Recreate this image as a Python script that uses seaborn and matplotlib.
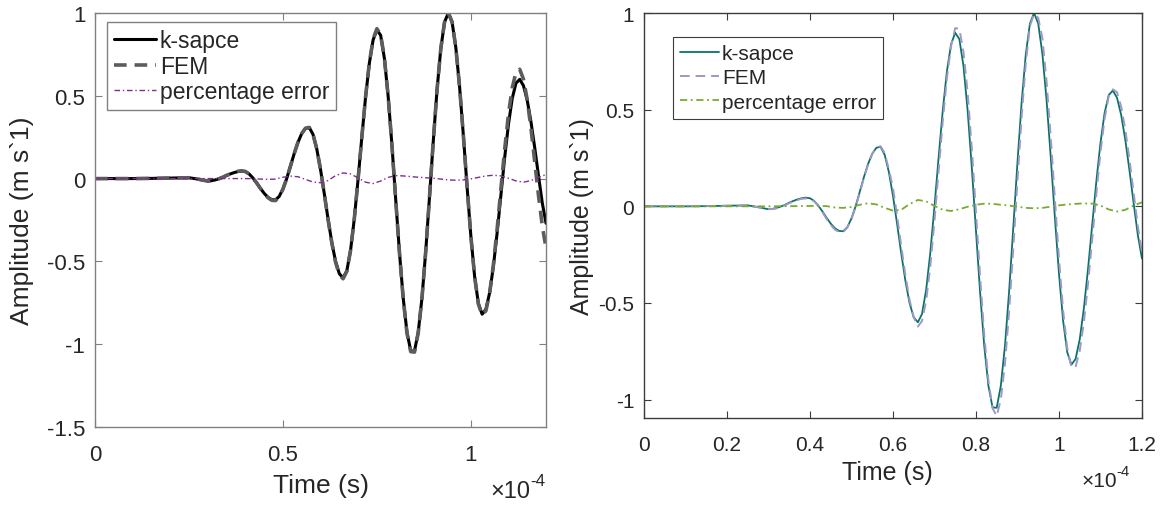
import numpy as np
import pandas as pd
import matplotlib
matplotlib.use("Agg")
import matplotlib.pyplot as plt
import seaborn as sns

# ---------------- data (time in units of 1e-4 s) ----------------
time_e4 = [0.00, 0.05, 0.10, 0.15, 0.20, 0.25, 0.27,
           0.30, 0.31, 0.32, 0.33, 0.34, 0.35, 0.36, 0.37, 0.38, 0.39,
           0.40, 0.41, 0.42, 0.43, 0.44, 0.45, 0.46, 0.47, 0.48, 0.49,
           0.50, 0.51, 0.52, 0.53, 0.54, 0.55, 0.56, 0.57, 0.58, 0.59,
           0.60, 0.61, 0.62, 0.63, 0.64, 0.65, 0.66, 0.67, 0.68, 0.69,
           0.70, 0.71, 0.72, 0.73, 0.74, 0.75, 0.76, 0.77, 0.78, 0.79,
           0.80, 0.81, 0.82, 0.83, 0.84, 0.85, 0.86, 0.87, 0.88, 0.89,
           0.90, 0.91, 0.92, 0.93, 0.94, 0.95, 0.96, 0.97, 0.98, 0.99,
           1.00, 1.01, 1.02, 1.03, 1.04, 1.05, 1.06, 1.07, 1.08, 1.09,
           1.10, 1.11, 1.12, 1.13, 1.14, 1.15, 1.16, 1.17, 1.18, 1.19,
           1.20]

k_space = [0.000, 0.000, 0.000, 0.001, 0.003, 0.005, -0.002,
           -0.015, -0.013, -0.008, -0.001, 0.008, 0.019, 0.028, 0.036, 0.042, 0.045,
           0.042, 0.028, 0.004, -0.026, -0.059, -0.089, -0.113, -0.127, -0.129, -0.108,
           -0.063, 0.000, 0.075, 0.151, 0.219, 0.272, 0.303, 0.308, 0.267, 0.179,
           0.055, -0.091, -0.244, -0.385, -0.500, -0.574, -0.600, -0.557, -0.432, -0.240,
           -0.002, 0.252, 0.495, 0.698, 0.838, 0.898, 0.865, 0.725, 0.495, 0.202,
           -0.125, -0.445, -0.722, -0.928, -1.040, -1.042, -0.927, -0.719, -0.437, -0.109,
           0.226, 0.536, 0.784, 0.945, 1.000, 0.946, 0.791, 0.554, 0.262, -0.051,
           -0.347, -0.591, -0.755, -0.819, -0.790, -0.689, -0.529, -0.325, -0.099, 0.127,
           0.327, 0.483, 0.576, 0.599, 0.561, 0.472, 0.342, 0.185, 0.016, -0.147,
           -0.270]

fem_left = [0.000, 0.000, 0.000, 0.001, 0.003, 0.005, -0.002,
            -0.015, -0.013, -0.008, -0.001, 0.008, 0.019, 0.028, 0.037, 0.044, 0.047,
            0.043, 0.028, 0.004, -0.026, -0.059, -0.090, -0.115, -0.131, -0.133, -0.110,
            -0.064, 0.000, 0.075, 0.151, 0.219, 0.272, 0.304, 0.309, 0.267, 0.179,
            0.055, -0.092, -0.246, -0.388, -0.505, -0.580, -0.605, -0.560, -0.432, -0.240,
            -0.002, 0.253, 0.497, 0.702, 0.843, 0.905, 0.869, 0.727, 0.495, 0.202,
            -0.126, -0.447, -0.726, -0.933, -1.045, -1.048, -0.931, -0.720, -0.437, -0.109,
            0.226, 0.536, 0.784, 0.945, 1.000, 0.946, 0.791, 0.554, 0.262, -0.051,
            -0.347, -0.591, -0.757, -0.825, -0.798, -0.691, -0.519, -0.302, -0.060, 0.177,
            0.388, 0.547, 0.641, 0.660, 0.600, 0.476, 0.302, 0.100, -0.103, -0.284,
            -0.420]

fem_right = [0.000, 0.000, 0.000, 0.001, 0.003, 0.004, -0.003,
             -0.014, -0.014, -0.010, -0.003, 0.006, 0.016, 0.025, 0.033, 0.039, 0.041,
             0.039, 0.026, 0.002, -0.030, -0.065, -0.096, -0.120, -0.133, -0.133, -0.110,
             -0.066, -0.004, 0.070, 0.147, 0.216, 0.271, 0.304, 0.311, 0.276, 0.193,
             0.096, -0.049, -0.206, -0.356, -0.484, -0.574, -0.622, -0.593, -0.488, -0.310,
             -0.076, 0.183, 0.439, 0.663, 0.828, 0.922, 0.918, 0.798, 0.587, 0.301,
             -0.028, -0.363, -0.665, -0.901, -1.044, -1.085, -0.998, -0.813, -0.542, -0.216,
             0.131, 0.461, 0.738, 0.933, 0.995, 0.975, 0.871, 0.650, 0.364, 0.045,
             -0.269, -0.538, -0.734, -0.832, -0.831, -0.748, -0.600, -0.402, -0.173, 0.061,
             0.278, 0.454, 0.570, 0.605, 0.590, 0.515, 0.396, 0.241, 0.069, -0.102,
             -0.240]

time_err_e4 = [0.0, 0.1, 0.2, 0.3, 0.4,
               0.42, 0.44, 0.46, 0.48, 0.50, 0.52, 0.54, 0.56, 0.58, 0.60,
               0.62, 0.64, 0.66, 0.68, 0.70, 0.72, 0.74, 0.76, 0.78, 0.80,
               0.82, 0.84, 0.86, 0.88, 0.90, 0.92, 0.94, 0.96, 0.98, 1.00,
               1.02, 1.04, 1.06, 1.08, 1.10, 1.12, 1.14, 1.16, 1.18, 1.20]

err_left = [0.0, 0.0, 0.0, 0.0, 0.0,
            -0.001, -0.003, -0.005, -0.003, 0.008, 0.015, 0.011, -0.005, -0.021, -0.025,
            -0.012, 0.018, 0.034, 0.028, 0.004, -0.022, -0.030, -0.015, 0.007, 0.018,
            0.016, 0.012, 0.008, 0.005, 0.002, -0.003, -0.008, -0.010, -0.008, -0.002,
            0.007, 0.016, 0.020, 0.016, 0.002, -0.014, -0.022, -0.012, 0.008, 0.024]

err_right = [0.0, 0.0, 0.0, 0.0, 0.002,
             0.003, 0.001, -0.006, -0.008, -0.004, 0.008, 0.016, 0.010, -0.008, -0.022,
             -0.018, 0.012, 0.033, 0.026, 0.002, -0.018, -0.024, -0.015, -0.002, 0.008,
             0.014, 0.013, 0.008, 0.004, -0.002, -0.008, -0.010, -0.008, -0.002, 0.005,
             0.010, 0.013, 0.015, 0.014, 0.004, -0.016, -0.027, -0.018, 0.004, 0.021]

series_labels = ["k-sapce", "FEM", "percentage error"]
ylabel_text = "Amplitude (m s`1)"
xlabel_text = "Time (s)"
exp_base = "×10"
exp_power = "-4"

left_xticks = [0, 0.5, 1]
left_xticklabels = ["0", "0.5", "1"]
left_yticks = [-1.5, -1, -0.5, 0, 0.5, 1]
left_yticklabels = ["-1.5", "-1", "-0.5", "0", "0.5", "1"]
right_xticks = [0, 0.2, 0.4, 0.6, 0.8, 1.0, 1.2]
right_xticklabels = ["0", "0.2", "0.4", "0.6", "0.8", "1", "1.2"]
right_yticks = [-1, -0.5, 0, 0.5, 1]
right_yticklabels = ["-1", "-0.5", "0", "0.5", "1"]

# ---------------- style ----------------
sns.set_style("ticks")
plt.rcParams["font.family"] = ["Liberation Sans", "DejaVu Sans"]

fig = plt.figure(figsize=(11.63, 5.06), dpi=100)
axL = fig.add_axes([0.0817, 0.1542, 0.3878, 0.8182])
axR = fig.add_axes([0.5537, 0.1719, 0.4282, 0.8004])

main_df = pd.DataFrame({"t": time_e4, "ks": k_space, "fl": fem_left, "fr": fem_right})
err_df = pd.DataFrame({"t": time_err_e4, "el": err_left, "er": err_right})

# left panel
sns.lineplot(data=main_df, x="t", y="ks", ax=axL, color="black", lw=2.2,
             label=series_labels[0], estimator=None, sort=False)
sns.lineplot(data=main_df, x="t", y="fl", ax=axL, color="#5c5c5c", lw=2.6,
             linestyle=(0, (3.5, 2.2)), label=series_labels[1], estimator=None, sort=False)
sns.lineplot(data=err_df, x="t", y="el", ax=axL, color="#7E2F8E", lw=1.0,
             linestyle=(0, (4, 2, 1, 2)), label=series_labels[2], estimator=None, sort=False)

# right panel
sns.lineplot(data=main_df, x="t", y="ks", ax=axR, color="#0B7267", lw=1.3,
             label=series_labels[0], estimator=None, sort=False)
sns.lineplot(data=main_df, x="t", y="fr", ax=axR, color="#9C98C8", lw=1.4,
             linestyle=(0, (5, 3)), label=series_labels[1], estimator=None, sort=False)
sns.lineplot(data=err_df, x="t", y="er", ax=axR, color="#77AC30", lw=1.3,
             linestyle=(0, (4, 2, 1, 2)), label=series_labels[2], estimator=None, sort=False)


def style_axis(ax, spine_col, xt, xtl, yt, ytl, ylim, tick_fs, lab_fs, exp_fs,
               ylab_x, xlab_pos, exp_pos):
    ax.set_xlim(0, 1.2)
    ax.set_ylim(*ylim)
    ax.set_xticks(xt)
    ax.set_xticklabels(xtl)
    ax.set_yticks(yt)
    ax.set_yticklabels(ytl)
    for s in ax.spines.values():
        s.set_visible(True)
        s.set_color(spine_col)
        s.set_linewidth(1.0)
    ax.tick_params(axis="both", direction="in", top=True, right=True, length=5,
                   width=0.8, color=spine_col, labelcolor="#262626", labelsize=tick_fs)
    ax.tick_params(axis="x", pad=12)
    ax.tick_params(axis="y", pad=7)
    ax.set_xlabel(xlabel_text, fontsize=lab_fs, color="#262626")
    ax.set_ylabel(ylabel_text, fontsize=lab_fs, color="#262626")
    ax.yaxis.set_label_coords(ylab_x, 0.5)
    ax.xaxis.set_label_coords(xlab_pos[0], xlab_pos[1])
    # exponent label: "-4" raised, "×10" to its left
    t_pow = ax.text(exp_pos[0], exp_pos[1] + 0.028, exp_power, transform=ax.transAxes,
                    ha="right", va="baseline", fontsize=exp_fs * 0.72, color="#262626")
    fig.canvas.draw()
    bb = t_pow.get_window_extent().transformed(ax.transAxes.inverted())
    ax.text(bb.x0, exp_pos[1], exp_base, transform=ax.transAxes,
            ha="right", va="baseline", fontsize=exp_fs, color="#262626")
    ax.set_facecolor("white")


style_axis(axL, "#808080", left_xticks, left_xticklabels, left_yticks, left_yticklabels,
           (-1.5, 1.0), 16, 19, 17, -0.135, (0.5, -0.112), (0.998, -0.168))
style_axis(axR, "#3c3c3c", right_xticks, right_xticklabels, right_yticks, right_yticklabels,
           (-1.095, 1.0), 15, 18, 15, -0.10, (0.488, -0.104), (0.976, -0.168))

legL = axL.legend(loc="upper left", bbox_to_anchor=(0.027, 0.978), borderaxespad=0,
                  frameon=True, fancybox=False, framealpha=1, edgecolor="#808080",
                  handlelength=1.85, handletextpad=0.15, labelspacing=0.12,
                  borderpad=0.3, fontsize=16.5)
legL.get_frame().set_linewidth(1.0)
legR = axR.legend(loc="upper left", bbox_to_anchor=(0.058, 0.941), borderaxespad=0,
                  frameon=True, fancybox=False, framealpha=1, edgecolor="#3c3c3c",
                  handlelength=1.85, handletextpad=0.15, labelspacing=0.25,
                  borderpad=0.35, fontsize=15)
legR.get_frame().set_linewidth(0.8)

fig.savefig("out.png", dpi=100, facecolor="white")
